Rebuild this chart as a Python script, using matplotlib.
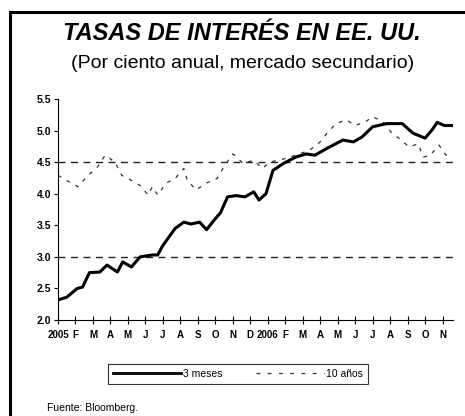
import matplotlib.pyplot as plt
from matplotlib.lines import Line2D

plt.rcParams['font.family'] = ['Liberation Sans', 'DejaVu Sans']

# months since 1 Jan 2005 (0 = Jan 2005)
t_3m = [0.0, 0.5, 1.1, 1.4, 1.8, 2.4, 2.8, 3.4, 3.7, 4.2, 4.7, 5.4, 5.7, 6.0, 6.7,
        7.2, 7.6, 8.1, 8.5, 8.9, 9.3, 9.7, 10.2, 10.7, 11.2, 11.5, 11.9, 12.3, 12.9,
        13.6, 14.2, 14.7, 15.4, 16.3, 16.9, 17.4, 18.0, 18.8, 19.7, 20.3, 21.0, 21.4,
        21.7, 22.1, 22.6]
v_3m = [2.32, 2.36, 2.50, 2.52, 2.75, 2.76, 2.87, 2.76, 2.92, 2.84, 3.00, 3.03, 3.03,
        3.18, 3.45, 3.55, 3.52, 3.55, 3.43, 3.57, 3.70, 3.95, 3.97, 3.95, 4.03, 3.90,
        4.00, 4.37, 4.48, 4.58, 4.63, 4.61, 4.72, 4.85, 4.82, 4.90, 5.06, 5.11, 5.11,
        4.96, 4.88, 5.01, 5.13, 5.08, 5.08]

t_10y = [0.0, 0.5, 1.15, 1.7, 2.2, 2.7, 3.26, 3.65, 4.2, 4.7, 5.15, 5.4, 5.7, 6.2,
         6.7, 7.2, 7.4, 7.9, 8.5, 9.1, 9.5, 10.0, 10.6, 11.2, 11.7, 12.1, 12.9, 13.6,
         14.4, 15.0, 15.4, 15.9, 16.5, 17.0, 17.6, 18.0, 18.6, 19.1, 19.5, 20.1, 20.6,
         20.9, 21.3, 21.8, 22.2, 22.4]
v_10y = [4.29, 4.21, 4.11, 4.29, 4.40, 4.61, 4.50, 4.29, 4.21, 4.13, 3.98, 4.11, 3.98,
         4.17, 4.24, 4.40, 4.21, 4.06, 4.17, 4.24, 4.43, 4.63, 4.48, 4.53, 4.40, 4.50,
         4.55, 4.61, 4.69, 4.82, 4.96, 5.11, 5.17, 5.08, 5.14, 5.22, 5.14, 4.96, 4.88,
         4.74, 4.79, 4.58, 4.61, 4.77, 4.61, 4.66]

month_labels = ['2005', 'F', 'M', 'A', 'M', 'J', 'J', 'A', 'S', 'O', 'N', 'D',
                '2006', 'F', 'M', 'A', 'M', 'J', 'J', 'A', 'S', 'O', 'N']
y_ticks = [2.0, 2.5, 3.0, 3.5, 4.0, 4.5, 5.0, 5.5]
ref_levels = [3.0, 4.5]

fig = plt.figure(figsize=(4.65, 4.16), dpi=100)
fig.patch.set_facecolor('white')

# frame: only the top and left edges show in the reference
fig.add_artist(Line2D([10/465, 10/465], [0, 1 - 12/416], transform=fig.transFigure, color='k', lw=2.2))
fig.add_artist(Line2D([10/465, 1], [1 - 12/416, 1 - 12/416], transform=fig.transFigure, color='k', lw=2.2))

fig.text(0.52, 1 - 34/416, 'TASAS DE INTERÉS EN EE. UU.', ha='center', va='center',
         fontsize=17, fontweight='bold', fontstyle='italic')
fig.text(0.522, 1 - 63/416, '(Por ciento anual, mercado secundario)', ha='center', va='center',
         fontsize=14)

ax = fig.add_axes([58/465, 1 - 320/416, (453 - 58)/465, (320 - 99)/416])

for lvl in ref_levels:
    ax.axhline(lvl, color='#222222', lw=1.0, ls=(0, (5, 4)), zorder=1)

ax.plot(t_10y, v_10y, color='#333333', lw=0.9, ls=(0, (3, 5)), zorder=2)
ax.plot(t_3m, v_3m, color='k', lw=2.2, zorder=3)

ax.set_xlim(0, 22.6)
ax.set_ylim(2.0, 5.5)
ax.set_yticks(y_ticks)
ax.set_yticklabels([f'{v:.1f}' for v in y_ticks], fontsize=7.5, fontweight='bold')
ax.set_xticks(range(len(month_labels)))
ax.set_xticklabels(month_labels, fontsize=7, fontweight='bold')
ax.tick_params(axis='x', direction='inout', length=6, width=0.8, pad=4)
ax.tick_params(axis='y', direction='out', length=3, width=0.8, pad=2)
for s in ['top', 'right']:
    ax.spines[s].set_visible(False)
for s in ['left', 'bottom']:
    ax.spines[s].set_linewidth(0.8)

handles = [Line2D([], [], color='k', lw=2.0),
           Line2D([], [], color='#333333', lw=0.9, ls=(0, (3, 6)))]
leg = fig.legend(handles, ['3 meses', '10 años'], loc='center', bbox_to_anchor=(238/465, 1 - 374/416),
                 ncol=2, fontsize=7.5, frameon=True, fancybox=False, edgecolor='k',
                 handlelength=6.5, columnspacing=3.2, handletextpad=0.2, borderpad=0.5)
leg.get_frame().set_linewidth(0.8)

fig.text(47/465, 1 - 408/416, 'Fuente: Bloomberg.', ha='left', va='center', fontsize=7.5)

fig.savefig('out.png', dpi=100, facecolor='white')
